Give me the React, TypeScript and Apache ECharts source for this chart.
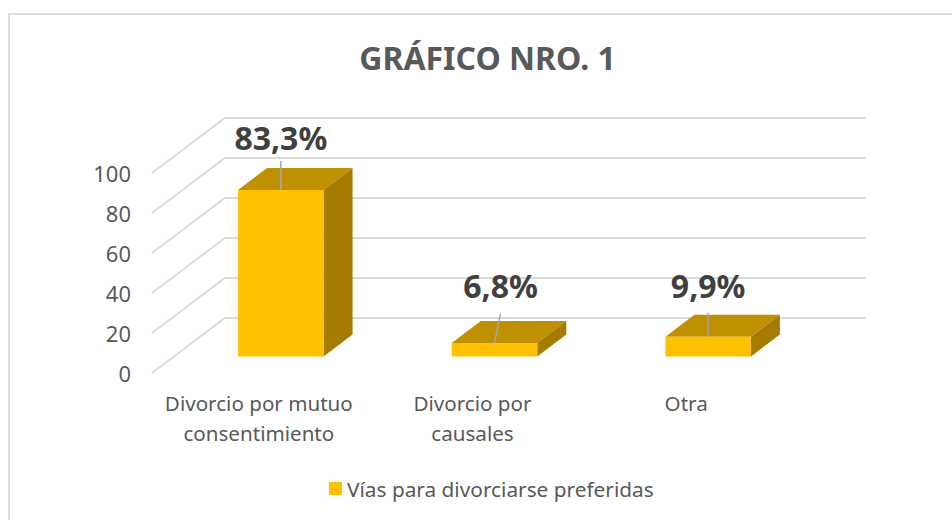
import React, { useEffect, useRef } from "react";
import * as echarts from "echarts";

const titleText = "GRÁFICO NRO. 1";
const seriesName = "Vías para divorciarse preferidas";
const categories = ["Divorcio por mutuo\nconsentimiento", "Divorcio por\ncausales", "Otra"];
const values = [83.3, 6.8, 9.9];
const valueLabels = ["83,3%", "6,8%", "9,9%"];
const yTicks = [0, 20, 40, 60, 80, 100];

// layout of the pseudo-3D box, in pixels
const BACK_DX = 73;
const BACK_DY = -55;
const BAR_DX = 22;
const BAR_DY = -16.5;
const DEPTH_DX = 29;
const DEPTH_DY = -22;
const labelLayout = [
  { labelDx: 0, labelY: -52, lineTopDx: 0, lineTopY: -29 },
  { labelDx: 6, labelY: -57, lineTopDx: 6, lineTopY: -29 },
  { labelDx: 0, labelY: -51, lineTopDx: 0, lineTopY: -24 },
];

const FONT = "'Noto Sans', sans-serif";

const App = () => {
  const ref = useRef<HTMLDivElement>(null);
  useEffect(() => {
    if (!ref.current) return;
    const chart = echarts.init(ref.current, undefined, { renderer: "svg" });
    chart.setOption({
      animation: false,
      backgroundColor: "#ffffff",
      title: {
        text: titleText,
        left: 482.5,
        top: 36,
        textAlign: "center",
        textStyle: { fontFamily: FONT, fontSize: 32, fontWeight: "bold", color: "#595959" },
      },
      legend: {
        data: [seriesName],
        left: 324,
        top: 473,
        icon: "rect",
        itemWidth: 13,
        itemHeight: 13,
        textStyle: { fontFamily: FONT, fontSize: 20.8, color: "#595959" },
      },
      grid: { left: 152, top: 173, width: 641, height: 200 },
      xAxis: {
        type: "category",
        data: categories,
        axisLine: { show: false },
        axisTick: { show: false },
        axisLabel: {
          fontFamily: FONT,
          fontSize: 20.6,
          color: "#595959",
          lineHeight: 30,
          margin: 15,
          interval: 0,
        },
      },
      yAxis: {
        type: "value",
        min: 0,
        max: 100,
        interval: 20,
        axisLine: { show: false },
        axisTick: { show: false },
        splitLine: { show: false },
        axisLabel: { fontFamily: FONT, fontSize: 22, color: "#595959", margin: 21, padding: [2, 0, 0, 0] },
      },
      graphic: [
        {
          type: "polyline",
          shape: { points: [[9, 520], [9, 14], [952, 14]] },
          style: { stroke: "#DEDEDE", lineWidth: 2, fill: "none" },
          silent: true,
          z: 0,
        },
      ],
      series: [
        {
          type: "custom",
          name: "grid",
          silent: true,
          clip: false,
          z: 1,
          data: yTicks.map((t) => [0, t]),
          encode: { x: 0, y: 1 },
          renderItem: (params: any, api: any) => {
            const y = api.coord([0, api.value(1)])[1];
            const x0 = params.coordSys.x;
            const w = params.coordSys.width;
            return {
              type: "polyline",
              shape: {
                points: [
                  [x0, y],
                  [x0 + BACK_DX, y + BACK_DY],
                  [x0 + BACK_DX + w, y + BACK_DY],
                ],
              },
              style: { stroke: "#D9D9D9", lineWidth: 1.8, fill: "none" },
            };
          },
        },
        {
          type: "custom",
          name: seriesName,
          silent: true,
          clip: false,
          z: 2,
          itemStyle: { color: "#FFC000" },
          data: values.map((v, i) => [i, v]),
          encode: { x: 0, y: 1 },
          renderItem: (params: any, api: any) => {
            const i = params.dataIndex;
            const top = api.coord([api.value(0), api.value(1)]);
            const base = api.coord([api.value(0), 0]);
            const bw = api.size([1, 0])[0] * 0.4;
            const cx = top[0] + BAR_DX;
            const l = cx - bw / 2;
            const r = cx + bw / 2;
            const t = top[1] + BAR_DY;
            const b = base[1] + BAR_DY;
            const layout = labelLayout[i];
            return {
              type: "group",
              children: [
                {
                  type: "polygon",
                  shape: { points: [[l, t], [r, t], [r + DEPTH_DX, t + DEPTH_DY], [l + DEPTH_DX, t + DEPTH_DY]] },
                  style: { fill: "#BF9000" },
                },
                {
                  type: "polygon",
                  shape: { points: [[r, t], [r + DEPTH_DX, t + DEPTH_DY], [r + DEPTH_DX, b + DEPTH_DY], [r, b]] },
                  style: { fill: "#A67C00" },
                },
                {
                  type: "rect",
                  shape: { x: l, y: t, width: bw, height: b - t },
                  style: { fill: "#FFC000" },
                },
                {
                  type: "line",
                  shape: { x1: cx, y1: t, x2: cx + layout.lineTopDx, y2: t + layout.lineTopY },
                  style: { stroke: "#A6A6A6", lineWidth: 1.5 },
                },
                {
                  type: "text",
                  x: cx + layout.labelDx,
                  y: t + layout.labelY,
                  style: {
                    text: valueLabels[i],
                    fontFamily: FONT,
                    fontSize: 32,
                    fontWeight: "bold",
                    fill: "#404040",
                    textAlign: "center",
                    textVerticalAlign: "middle",
                  },
                },
              ],
            };
          },
        },
      ],
    });
    return () => chart.dispose();
  }, []);
  return <div ref={ref} style={{ position: "absolute", left: 0, top: 0, width: 952, height: 520 }} />;
};

export default App;
